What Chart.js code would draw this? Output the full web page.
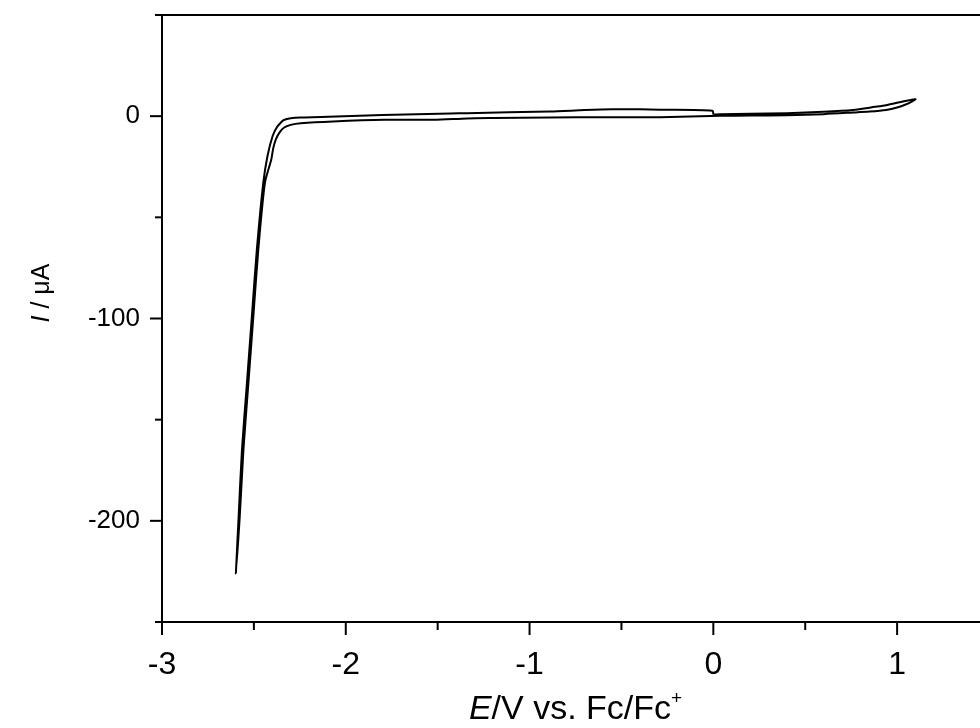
<!DOCTYPE html>
<html>
<head>
<meta charset="utf-8">
<script src="https://cdn.jsdelivr.net/npm/chart.js@4.4.1/dist/chart.umd.min.js"></script>
<style>
  html, body { margin: 0; padding: 0; background: #fff; overflow: hidden; }
  #wrap { width: 1000px; height: 728px; }
</style>
</head>
<body>
<div id="wrap"><canvas id="cv" width="1000" height="728"></canvas></div>
<script>
// Cyclic voltammogram: potential (V vs. Fc/Fc+) and current (µA), in scan order.
// Anodic sweep from 0 V to +1.1 V
const sweepUpE = [0.00, 0.04, 0.20, 0.40, 0.60, 0.76, 0.88, 0.94, 1.00, 1.05, 1.10];
const sweepUpI = [0.8, 1.0, 1.2, 1.5, 2.2, 3.1, 4.6, 5.4, 6.6, 7.6, 8.4];
// Cathodic sweep from +1.1 V down to -2.6 V
const sweepDownE = [1.08, 1.05, 1.00, 0.94, 0.85, 0.76, 0.60, 0.40, 0.20, 0.04, -0.29, -0.60, -0.89, -1.20, -1.34,
  -1.52, -1.79, -2.07, -2.245, -2.30, -2.335, -2.36, -2.38, -2.395, -2.405, -2.44, -2.476, -2.503, -2.530, -2.557, -2.577, -2.598];
const sweepDownI = [7.2, 5.9, 4.3, 3.1, 2.3, 1.8, 1.0, 0.5, 0.3, 0.15, -0.5, -0.5, -0.6, -0.9, -1.1,
  -1.8, -1.8, -2.6, -3.5, -4.3, -5.6, -8.0, -11.4, -16, -21.3, -33, -66, -99, -132, -165, -198, -226];
// Return sweep from -2.6 V back to 0 V
const sweepBackE = [-2.583, -2.565, -2.538, -2.511, -2.484, -2.449, -2.426, -2.398, -2.375, -2.353, -2.337, -2.30,
  -2.245, -2.136, -1.80, -1.43, -1.34, -0.89, -0.70, -0.55, -0.40, -0.29, -0.005, 0.00];
const sweepBackI = [-198, -165, -132, -99, -66, -33, -19.7, -9.8, -5.5, -3.1, -1.9, -1.0,
  -0.6, -0.4, 0.6, 1.3, 1.5, 2.3, 3.0, 3.4, 3.4, 3.2, 2.7, 0.8];

// Axis ticks
const xMajorTicks = [-3, -2, -1, 0, 1];
const xMinorTicks = [-2.5, -1.5, -0.5, 0.5, 1.5];
const yMajorTicks = [0, -100, -200];
const yMinorTicks = [50, -50, -150, -250];

const potential = [...sweepUpE, ...sweepDownE, ...sweepBackE];
const current = [...sweepUpI, ...sweepDownI, ...sweepBackI];
const points = potential.map((e, i) => ({ x: e, y: current[i] }));

const FONT = '"Liberation Sans", Arial, sans-serif';

// Outward tick marks, top/right frame lines and the axis titles
const frameAndTitles = {
  id: 'frameAndTitles',
  afterDraw(chart) {
    const { ctx, chartArea: a, scales: { x, y } } = chart;
    ctx.save();
    ctx.strokeStyle = '#000';
    ctx.lineWidth = 2;
    ctx.lineCap = 'butt';
    ctx.beginPath();
    ctx.moveTo(a.left - 1, a.top);
    ctx.lineTo(a.right, a.top);
    ctx.lineTo(a.right, a.bottom);
    ctx.stroke();

    const tick = (x0, y0, x1, y1) => { ctx.beginPath(); ctx.moveTo(x0, y0); ctx.lineTo(x1, y1); ctx.stroke(); };
    xMajorTicks.forEach(v => { const p = x.getPixelForValue(v); tick(p, a.bottom, p, a.bottom + 13); });
    xMinorTicks.forEach(v => { const p = x.getPixelForValue(v); tick(p, a.bottom, p, a.bottom + 8); });
    yMajorTicks.forEach(v => { const p = y.getPixelForValue(v); tick(a.left, p, a.left - 12, p); });
    yMinorTicks.forEach(v => { const p = y.getPixelForValue(v); tick(a.left, p, a.left - 7, p); });

    ctx.fillStyle = '#000';
    ctx.textBaseline = 'alphabetic';
    // x title: E/V vs. Fc/Fc+
    const xt = [
      { t: 'E', f: 'italic 34px ' + FONT, dy: 0 },
      { t: '/V vs. Fc/Fc', f: '34px ' + FONT, dy: 0 },
      { t: '+', f: '19px ' + FONT, dy: -15 }
    ];
    let total = 0;
    xt.forEach(s => { ctx.font = s.f; s.w = ctx.measureText(s.t).width; total += s.w; });
    let cx = (a.left + a.right) / 2 - total / 2;
    xt.forEach(s => { ctx.font = s.f; ctx.fillText(s.t, cx, 719 + s.dy); cx += s.w; });

    // y title: I / µA
    ctx.translate(49, 293);
    ctx.rotate(-Math.PI / 2);
    const yt = [
      { t: 'I', f: 'italic 25px ' + FONT },
      { t: ' / \u03bcA', f: '25px ' + FONT }
    ];
    total = 0;
    yt.forEach(s => { ctx.font = s.f; s.w = ctx.measureText(s.t).width; total += s.w; });
    cx = -total / 2;
    yt.forEach(s => { ctx.font = s.f; ctx.fillText(s.t, cx, 0); cx += s.w; });
    ctx.restore();
  }
};

new Chart(document.getElementById('cv'), {
  type: 'scatter',
  data: {
    datasets: [{
      data: points,
      showLine: true,
      borderColor: '#000',
      borderWidth: 2,
      pointRadius: 0,
      tension: 0.25,
      fill: false
    }]
  },
  options: {
    responsive: false,
    animation: false,
    devicePixelRatio: 1,
    layout: { padding: { top: 15, right: 11, left: 0, bottom: 0 } },
    plugins: { legend: { display: false }, tooltip: { enabled: false } },
    scales: {
      x: {
        type: 'linear',
        min: -3, max: 1.5,
        afterFit(s) { s.height = 106; s.paddingLeft = 0; s.paddingRight = 0; },
        afterBuildTicks(s) { s.ticks = xMajorTicks.map(v => ({ value: v })); },
        grid: { display: false, drawTicks: false },
        border: { display: true, color: '#000', width: 2 },
        ticks: { color: '#000', font: { family: FONT, size: 32 }, padding: 24, maxRotation: 0 }
      },
      y: {
        type: 'linear',
        min: -250, max: 50,
        afterFit(s) { s.width = 162; s.paddingTop = 0; s.paddingBottom = 0; },
        afterBuildTicks(s) { s.ticks = yMajorTicks.map(v => ({ value: v })); },
        grid: { display: false, drawTicks: false },
        border: { display: true, color: '#000', width: 2 },
        ticks: { color: '#000', font: { family: FONT, size: 26 }, padding: 22 }
      }
    }
  },
  plugins: [frameAndTitles]
});
</script>
</body>
</html>
